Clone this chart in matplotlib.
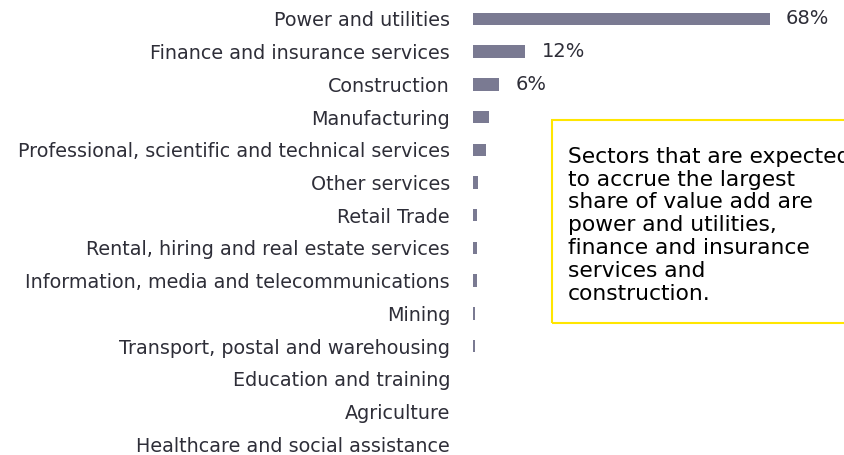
import matplotlib.pyplot as plt
from matplotlib.patches import Rectangle

# === data ===
sectors = [
    "Power and utilities",
    "Finance and insurance services",
    "Construction",
    "Manufacturing",
    "Professional, scientific and technical services",
    "Other services",
    "Retail Trade",
    "Rental, hiring and real estate services",
    "Information, media and telecommunications",
    "Mining",
    "Transport, postal and warehousing",
    "Education and training",
    "Agriculture",
    "Healthcare and social assistance",
]
share = [68, 12, 6, 3.6, 3.0, 1.1, 0.9, 0.9, 0.9, 0.4, 0.4, 0.1, 0.0, 0.0]
shown_labels = ["68%", "12%", "6%"]

note = ("Sectors that are expected\nto accrue the largest\nshare of value add are\n"
        "power and utilities,\nfinance and insurance\nservices and\nconstruction.")

bar_col = "#7a7a92"
txt_col = "#2e2e38"

fig = plt.figure(figsize=(8.45, 4.55), dpi=100)
ax = fig.add_axes([473 / 845, 0, 1 - 473 / 845, 1])

y = list(range(len(sectors)))
ax.barh(y, share, height=0.38, color=bar_col)
for i, lab in enumerate(shown_labels):
    ax.text(share[i] + 3.7, y[i], lab, va="center", ha="left", fontsize=14, color=txt_col)

ax.set_yticks(y)
ax.set_yticklabels(sectors, fontsize=13.8, color=txt_col)
ax.tick_params(axis="y", length=0, pad=16.5)
ax.set_xticks([])
ax.set_xlim(0, 85.2)
ax.set_ylim(13.33, -0.58)
for s in ax.spines.values():
    s.set_visible(False)

# === 注記ボックス ===
fig.patches.append(Rectangle((552 / 845, 1 - 323 / 455), 0.5, (323 - 120) / 455,
                             transform=fig.transFigure, fill=False,
                             edgecolor="#ffe600", linewidth=1.5))
fig.text(568 / 845, 1 - 300 / 455, note, ha="left", va="baseline", fontsize=15.7,
         color="black", linespacing=1.18)

fig.savefig("out.png", dpi=100)
